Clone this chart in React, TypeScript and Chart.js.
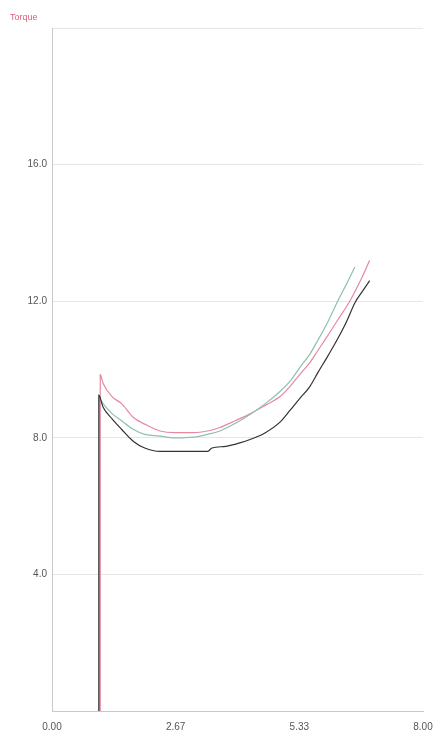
import React, { useEffect, useRef } from "react";
import { Chart, registerables } from "chart.js";

Chart.register(...registerables);

const xTicks = [0, 8 / 3, 16 / 3, 8];
const yTicks = [4, 8, 12, 16];

const pinkX = [1.04, 1.04, 1.1, 1.3, 1.5, 1.75, 2.0, 2.33, 2.65, 3.05, 3.35, 3.62, 3.95, 4.27, 4.6, 4.91, 5.13, 5.34, 5.56, 5.73, 5.95, 6.16, 6.42, 6.65, 6.85];
const pinkY = [0, 9.85, 9.6, 9.2, 9.0, 8.6, 8.4, 8.2, 8.15, 8.15, 8.2, 8.3, 8.5, 8.7, 8.95, 9.2, 9.5, 9.85, 10.2, 10.55, 11.0, 11.45, 12.0, 12.6, 13.2];

const tealX = [1.02, 1.02, 1.1, 1.3, 1.5, 1.75, 2.0, 2.33, 2.65, 3.05, 3.35, 3.62, 3.95, 4.27, 4.6, 4.91, 5.13, 5.34, 5.56, 5.73, 5.95, 6.16, 6.35, 6.53];
const tealY = [0, 9.15, 9.0, 8.7, 8.5, 8.25, 8.1, 8.05, 8.0, 8.02, 8.1, 8.2, 8.42, 8.68, 9.0, 9.35, 9.65, 10.05, 10.45, 10.85, 11.4, 12.0, 12.5, 13.0];

const blackX = [1.01, 1.01, 1.1, 1.3, 1.5, 1.75, 2.0, 2.33, 2.65, 3.05, 3.35, 3.45, 3.75, 4.05, 4.27, 4.6, 4.91, 5.13, 5.34, 5.56, 5.73, 5.95, 6.16, 6.35, 6.53, 6.7, 6.85];
const blackY = [0, 9.25, 8.9, 8.55, 8.25, 7.9, 7.7, 7.6, 7.6, 7.6, 7.6, 7.7, 7.75, 7.85, 7.95, 8.15, 8.45, 8.8, 9.15, 9.5, 9.9, 10.4, 10.9, 11.4, 11.95, 12.3, 12.6];

const toPts = (xs: number[], ys: number[]) => xs.map((x, i) => ({ x, y: ys[i] }));

const titlePlugin = {
  id: "torqueTitle",
  afterDraw(chart: any) {
    const ctx = chart.ctx;
    ctx.save();
    ctx.fillStyle = "#e0607e";
    ctx.font = "9px 'Liberation Sans', Arial, sans-serif";
    ctx.textBaseline = "middle";
    ctx.textAlign = "left";
    ctx.fillText("Torque", 10, 18);
    ctx.restore();
  },
};

export default function App() {
  const ref = useRef<HTMLCanvasElement>(null);
  useEffect(() => {
    if (!ref.current) return;
    const common = { borderWidth: 1.2, pointRadius: 0, tension: 0.25, cubicInterpolationMode: "monotone" as const };
    const chart = new Chart(ref.current, {
      type: "line",
      data: {
        datasets: [
          { data: toPts(blackX, blackY), borderColor: "#333333", ...common },
          { data: toPts(tealX, tealY), borderColor: "#8fbfb2", ...common },
          { data: toPts(pinkX, pinkY), borderColor: "#e68a9e", ...common },
        ],
      },
      options: {
        animation: false,
        responsive: false,
        layout: { padding: { top: 28, right: 15, left: 0, bottom: 0 } },
        plugins: { legend: { display: false }, tooltip: { enabled: false }, title: { display: false } },
        scales: {
          x: {
            type: "linear",
            min: 0,
            max: 8,
            afterBuildTicks: (s: any) => { s.ticks = xTicks.map((v) => ({ value: v })); },
            afterFit: (s: any) => { s.height = 20; },
            grid: { display: false },
            border: { color: "#c8c8c8" },
            ticks: {
              padding: 2,
              color: "#555",
              font: { size: 10, family: "'Liberation Sans', Arial, sans-serif" },
              callback: (v: any) => Number(v).toFixed(2),
            },
          },
          y: {
            type: "linear",
            min: 0,
            max: 20,
            afterBuildTicks: (s: any) => { s.ticks = [0, ...yTicks, 20].map((v) => ({ value: v })); },
            afterFit: (s: any) => { s.width = 52; },
            grid: { color: (c: any) => (c.tick && c.tick.value === 0 ? "rgba(0,0,0,0)" : "#e6e6e6"), drawTicks: false },
            border: { color: "#c8c8c8" },
            ticks: {
              padding: 5,
              color: "#555",
              font: { size: 10, family: "'Liberation Sans', Arial, sans-serif" },
              callback: (v: any) => (yTicks.includes(Number(v)) ? Number(v).toFixed(1) : ""),
            },
          },
        },
      },
      plugins: [titlePlugin],
    });
    return () => chart.destroy();
  }, []);
  return (
    <div style={{ position: "absolute", left: 0, top: 0, width: 438, height: 731, background: "#fff" }}>
      <canvas ref={ref} width={438} height={731} />
    </div>
  );
}
